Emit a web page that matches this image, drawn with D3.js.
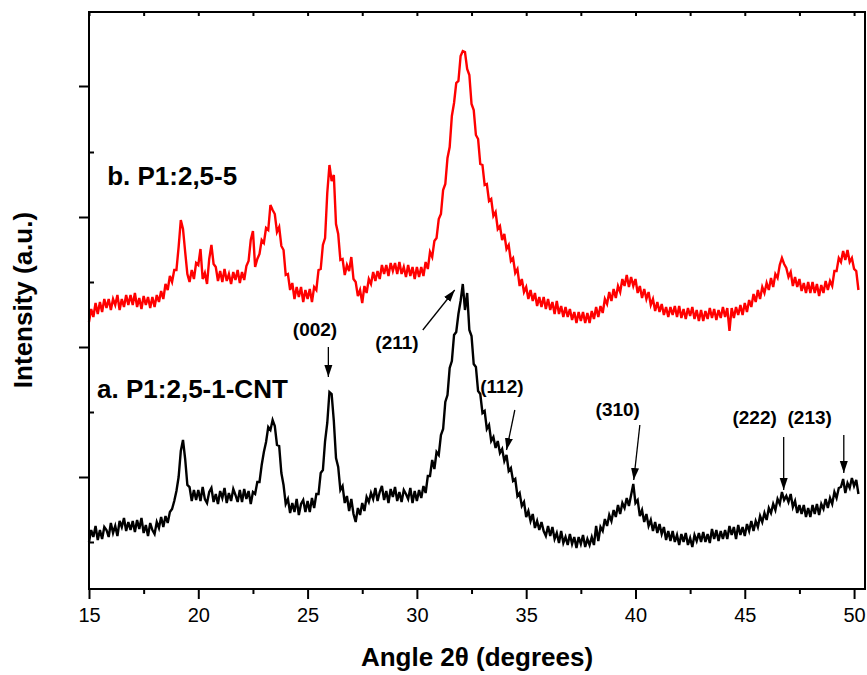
<!DOCTYPE html>
<html>
<head>
<meta charset="utf-8">
<script src="https://cdn.jsdelivr.net/npm/d3@7"></script>
<style>
body { margin: 0; background: #fff; }
text { font-family: "Liberation Sans", Arial, Helvetica, sans-serif; fill: #000; }
</style>
</head>
<body>
<svg id="chart" width="867" height="675"></svg>
<script>
// XRD scans, sampled every 0.1 degree from 15.0 to 50.2 (2theta)
const angleStart = 15;
const angleStep = 0.1;

// a. P1:2,5-1-CNT (black)
const intensityA = [
  58, 70, 63, 74, 60, 70, 61, 73, 70, 63,
  77, 67, 74, 64, 79, 73, 82, 69, 78, 70,
  79, 68, 80, 71, 82, 67, 75, 64, 77, 70,
  66, 78, 72, 83, 73, 84, 77, 88, 91, 99,
  109, 123, 149, 160, 141, 115, 113, 99, 110, 100,
  110, 99, 113, 101, 97, 108, 112, 98, 106, 96,
  109, 102, 112, 97, 107, 99, 111, 105, 98, 110,
  98, 111, 101, 109, 96, 108, 106, 118, 118, 135,
  148, 158, 173, 170, 180, 174, 155, 154, 127, 115,
  96, 101, 87, 97, 88, 101, 85, 96, 100, 88,
  99, 88, 102, 92, 106, 106, 127, 130, 159, 177,
  208, 206, 179, 142, 133, 110, 114, 97, 104, 89,
  101, 86, 78, 92, 85, 97, 89, 103, 98, 107,
  101, 112, 99, 108, 114, 100, 109, 97, 111, 103,
  113, 99, 108, 98, 110, 106, 101, 112, 97, 109,
  99, 110, 102, 114, 107, 124, 124, 140, 131, 148,
  145, 165, 171, 198, 205, 232, 239, 265, 268, 286,
  299, 316, 290, 307, 270, 264, 236, 233, 209, 206,
  187, 189, 171, 175, 159, 163, 152, 159, 147, 151,
  139, 145, 129, 132, 119, 121, 104, 107, 94, 98,
  83, 89, 79, 86, 72, 79, 70, 78, 69, 64,
  74, 64, 73, 61, 67, 57, 69, 57, 63, 55,
  66, 56, 63, 52, 63, 56, 65, 53, 61, 55,
  63, 55, 74, 59, 73, 69, 81, 74, 85, 79,
  90, 83, 95, 86, 97, 92, 102, 94, 105, 116,
  97, 100, 84, 90, 78, 86, 74, 80, 69, 78,
  67, 76, 66, 73, 60, 69, 59, 69, 58, 65,
  55, 66, 58, 67, 55, 62, 53, 65, 59, 67,
  58, 68, 58, 66, 57, 71, 61, 70, 59, 69,
  61, 70, 61, 74, 65, 73, 61, 75, 65, 73,
  64, 76, 69, 79, 69, 79, 73, 84, 78, 87,
  80, 92, 87, 96, 90, 101, 96, 108, 100, 104,
  98, 106, 93, 99, 87, 95, 86, 95, 83, 92,
  83, 95, 86, 96, 85, 96, 91, 101, 92, 102,
  96, 108, 102, 112, 113, 121, 107, 117, 112, 122,
  114, 120, 106
];

// b. P1:2,5-5 (red)
const intensityB = [
  278, 291, 283, 297, 286, 298, 288, 301, 292, 301,
  290, 301, 295, 305, 290, 301, 293, 305, 295, 305,
  295, 307, 293, 302, 291, 304, 295, 303, 292, 303,
  293, 305, 298, 309, 301, 316, 310, 324, 318, 330,
  330, 353, 380, 371, 348, 326, 318, 330, 321, 337,
  335, 351, 321, 327, 316, 341, 355, 336, 333, 319,
  329, 318, 331, 319, 326, 316, 328, 320, 330, 317,
  328, 320, 334, 339, 360, 369, 333, 341, 346, 360,
  357, 372, 370, 395, 390, 386, 368, 373, 354, 350,
  325, 326, 310, 317, 301, 313, 303, 313, 298, 310,
  301, 311, 298, 313, 310, 330, 331, 355, 362, 407,
  435, 419, 425, 376, 366, 340, 341, 325, 335, 329,
  343, 321, 318, 304, 310, 297, 314, 307, 321, 316,
  328, 319, 329, 321, 335, 326, 335, 324, 337, 329,
  337, 326, 338, 326, 333, 323, 335, 324, 333, 321,
  333, 323, 333, 324, 338, 331, 348, 343, 359, 362,
  381, 386, 410, 416, 442, 453, 484, 497, 517, 519,
  544, 549, 548, 531, 525, 496, 490, 465, 461, 436,
  435, 415, 416, 399, 401, 384, 388, 371, 374, 360,
  366, 351, 355, 339, 342, 327, 331, 314, 321, 308,
  313, 301, 310, 299, 307, 294, 303, 293, 303, 291,
  301, 290, 298, 286, 299, 286, 294, 283, 293, 283,
  291, 280, 288, 277, 288, 279, 288, 277, 287, 277,
  289, 281, 293, 283, 294, 287, 301, 296, 308, 299,
  311, 302, 314, 308, 321, 314, 325, 313, 323, 314,
  321, 307, 314, 302, 311, 301, 308, 295, 301, 289,
  298, 288, 296, 285, 293, 283, 293, 285, 294, 283,
  294, 282, 291, 281, 292, 284, 293, 281, 290, 279,
  290, 279, 289, 281, 292, 282, 291, 280, 290, 282,
  293, 283, 292, 269, 292, 282, 293, 285, 295, 285,
  297, 288, 300, 293, 306, 298, 310, 301, 313, 307,
  317, 310, 322, 313, 326, 322, 335, 342, 336, 332,
  323, 328, 314, 323, 313, 321, 309, 317, 307, 318,
  307, 318, 307, 316, 304, 315, 307, 319, 310, 319,
  314, 329, 329, 342, 338, 349, 340, 350, 338, 342,
  331, 329, 310
];

const xTicks = [15, 20, 25, 30, 35, 40, 45, 50];
const xMinorTicks = [17.5, 22.5, 27.5, 32.5, 37.5, 42.5, 47.5];
const yTicks = [123, 253, 383, 514];
const yMinorTicks = [58, 188, 318, 448];

const seriesNames = ["a. P1:2,5-1-CNT", "b. P1:2,5-5"];
const seriesColors = ["#000000", "#ff0000"];
const seriesLabelAt = [[15.37, 202], [15.83, 415]];

// Miller index labels: text anchor and arrow (tail -> tip) in data units
const peakNames = ["(002)", "(211)", "(112)", "(310)", "(222)", "(213)"];
const peakTextAt = [[25.34, 264], [29.09, 251], [33.89, 207], [39.19, 184], [45.45, 176], [47.97, 176]];
const peakArrowFrom = [[25.95, 253], [30.27, 270], [34.48, 190], [40.2, 175], [46.78, 163], [49.53, 165]];
const peakArrowTo = [[25.95, 223], [31.73, 310], [34.1, 150], [39.92, 120], [46.78, 110], [49.53, 127]];

const svg = d3.select("#chart");
const plot = {left: 89, right: 865, top: 12, bottom: 589};

const x = d3.scaleLinear().domain([15, 50.5]).range([plot.left, plot.right]);
const y = d3.scaleLinear().domain([11, 588]).range([plot.bottom, plot.top]);

// arrowhead
svg.append("defs").append("marker")
  .attr("id", "head")
  .attr("viewBox", "0 -5 12 10")
  .attr("refX", 12).attr("refY", 0)
  .attr("markerWidth", 12).attr("markerHeight", 10)
  .attr("markerUnits", "userSpaceOnUse")
  .attr("orient", "auto")
  .append("path").attr("d", "M0,-4L12,0L0,4Z").attr("fill", "#000");

// curves
const line = d3.line()
  .x((d, i) => x(angleStart + i * angleStep))
  .y(d => y(d));

[intensityA, intensityB].forEach((vals, k) => {
  svg.append("path")
    .datum(vals)
    .attr("d", line)
    .attr("fill", "none")
    .attr("stroke", seriesColors[k])
    .attr("stroke-width", 2.4)
    .attr("stroke-linejoin", "miter");
});

// bottom axis, major + minor
const bottom = svg.append("g")
  .attr("transform", `translate(0,${plot.bottom})`)
  .call(d3.axisBottom(x).tickValues(xTicks).tickSize(10).tickSizeOuter(0).tickPadding(9));
bottom.selectAll("text").style("font-size", "20px");
svg.append("g")
  .attr("transform", `translate(0,${plot.bottom})`)
  .call(d3.axisBottom(x).tickValues(xMinorTicks).tickSize(5).tickFormat(""));

// top axis, small inward ticks
svg.append("g")
  .attr("transform", `translate(0,${plot.top})`)
  .call(d3.axisBottom(x).tickValues(xTicks.concat(xMinorTicks)).tickSize(4).tickFormat(""));

// left axis: outward major, inward minor
svg.append("g")
  .attr("transform", `translate(${plot.left},0)`)
  .call(d3.axisLeft(y).tickValues(yTicks).tickSize(10).tickFormat(""));
svg.append("g")
  .attr("transform", `translate(${plot.left},0)`)
  .call(d3.axisRight(y).tickValues(yMinorTicks).tickSize(5).tickFormat(""));

svg.selectAll(".domain").remove();
svg.selectAll(".tick line").attr("stroke", "#000").attr("stroke-width", 2);

// frame
svg.append("rect")
  .attr("x", plot.left).attr("y", plot.top)
  .attr("width", plot.right - plot.left).attr("height", plot.bottom - plot.top)
  .attr("fill", "none").attr("stroke", "#000").attr("stroke-width", 2);

// axis titles
svg.append("text")
  .attr("x", (plot.left + plot.right) / 2).attr("y", 666)
  .attr("text-anchor", "middle")
  .style("font-size", "26px").style("font-weight", "bold")
  .text("Angle 2\u03B8 (degrees)");

svg.append("text")
  .attr("transform", "translate(32,300) rotate(-90)")
  .attr("text-anchor", "middle")
  .style("font-size", "26px").style("font-weight", "bold")
  .text("Intensity (a.u.)");

// series labels
seriesNames.forEach((name, k) => {
  svg.append("text")
    .attr("x", x(seriesLabelAt[k][0])).attr("y", y(seriesLabelAt[k][1]))
    .style("font-size", "26px").style("font-weight", "bold")
    .text(name);
});

// peak annotations
peakNames.forEach((name, k) => {
  svg.append("text")
    .attr("x", x(peakTextAt[k][0])).attr("y", y(peakTextAt[k][1]))
    .attr("text-anchor", "middle")
    .style("font-size", "19px").style("font-weight", "bold")
    .text(name);
  svg.append("line")
    .attr("x1", x(peakArrowFrom[k][0])).attr("y1", y(peakArrowFrom[k][1]))
    .attr("x2", x(peakArrowTo[k][0])).attr("y2", y(peakArrowTo[k][1]))
    .attr("stroke", "#000").attr("stroke-width", 1.3)
    .attr("marker-end", "url(#head)");
});
</script>
</body>
</html>
